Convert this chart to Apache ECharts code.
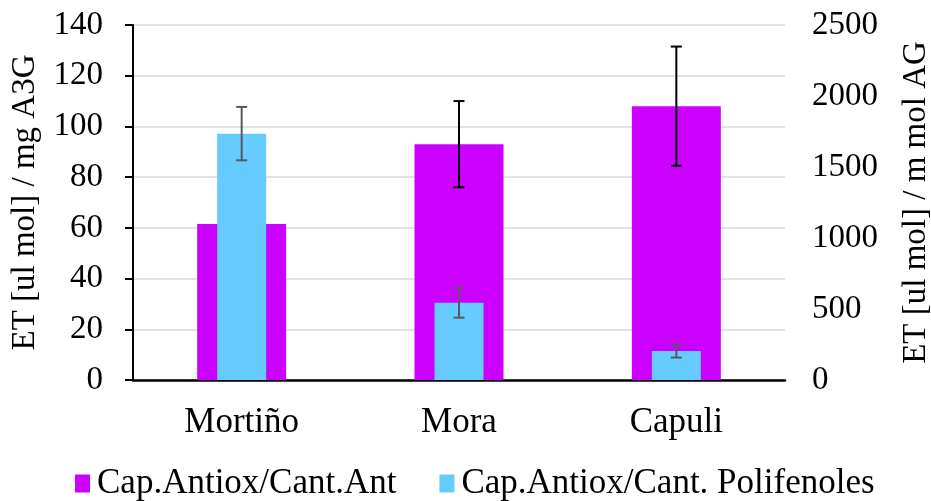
<!DOCTYPE html>
<html>
<head>
<meta charset="utf-8">
<script src="https://cdn.jsdelivr.net/npm/echarts@6/dist/echarts.min.js"></script>
<style>
  html, body { margin: 0; padding: 0; background: #fff; }
  #chart { width: 931px; height: 501px; }
</style>
</head>
<body>
<div id="chart"></div>
<script>
// Fruit samples
const categories = ['Mortiño', 'Mora', 'Capuli'];

// Antioxidant capacity per anthocyanin content (left axis)
const antValues = [61.5, 93, 108];
const antErrors = [null, 17, 23.5];

// Antioxidant capacity per polyphenol content (right axis)
const poliValues = [1735, 544, 204];
const poliErrors = [188, 105, 46];

const leftTicks = { min: 0, max: 140, interval: 20 };
const rightTicks = { min: 0, max: 2500, interval: 500 };

const FONT = 'Liberation Serif';
const PURPLE = '#cc00ff';
const BLUE = '#66ccff';

// [category index, low, high] for every sample that has a deviation
function errorData(values, errors) {
  const out = [];
  values.forEach((v, i) => {
    if (errors[i] != null) out.push([i, v - errors[i], v + errors[i]]);
  });
  return out;
}

function errorRenderer(color) {
  return function (params, api) {
    const x = api.value(0);
    const lo = api.coord([x, api.value(1)]);
    const hi = api.coord([x, api.value(2)]);
    const half = 5.5;
    const style = { stroke: color, lineWidth: 2 };
    return {
      type: 'group',
      children: [
        { type: 'line', shape: { x1: lo[0], y1: lo[1], x2: hi[0], y2: hi[1] }, style },
        { type: 'line', shape: { x1: hi[0] - half, y1: hi[1], x2: hi[0] + half, y2: hi[1] }, style },
        { type: 'line', shape: { x1: lo[0] - half, y1: lo[1], x2: lo[0] + half, y2: lo[1] }, style }
      ]
    };
  };
}

const chart = echarts.init(document.getElementById('chart'), null, { renderer: 'canvas' });

chart.setOption({
  animation: false,
  backgroundColor: '#fff',
  textStyle: { fontFamily: FONT, color: '#000' },
  grid: { left: 133, right: 146, top: 25, bottom: 121, outerBoundsMode: 'none', containLabel: false },
  legend: {
    left: 75,
    top: 466,
    padding: 0,
    itemWidth: 15,
    itemHeight: 18,
    itemGap: 43,
    icon: 'rect',
    textStyle: { fontFamily: FONT, fontSize: 35, color: '#000', padding: [0, 0, 0, 2] },
    data: ['Cap.Antiox/Cant.Ant', 'Cap.Antiox/Cant. Polifenoles']
  },
  xAxis: [
    {
      type: 'category',
      data: categories,
      axisLine: { lineStyle: { color: '#000', width: 2.5 } },
      axisTick: { alignWithLabel: true, length: 9, lineStyle: { color: '#000', width: 2 } },
      axisLabel: { fontFamily: FONT, fontSize: 35, color: '#000', margin: 25 }
    },
    {
      type: 'category',
      data: categories,
      show: false
    }
  ],
  yAxis: [
    {
      type: 'value',
      min: leftTicks.min, max: leftTicks.max, interval: leftTicks.interval,
      name: 'ET [ul mol] / mg A3G',
      nameLocation: 'middle',
      nameGap: 91,
      nameTextStyle: { fontFamily: FONT, fontSize: 33, color: '#000' },
      axisLine: { show: true, lineStyle: { color: '#000', width: 2 } },
      axisTick: { show: true, length: 8, lineStyle: { color: '#000', width: 2 } },
      axisLabel: { fontFamily: FONT, fontSize: 33, color: '#000', margin: 30, padding: [5, 0, 0, 0] },
      splitLine: { lineStyle: { color: '#d9d9d9', width: 1.5 } }
    },
    {
      type: 'value',
      min: rightTicks.min, max: rightTicks.max, interval: rightTicks.interval,
      name: 'ET [ul mol] / m mol AG',
      nameLocation: 'middle',
      nameGap: 115,
      nameTextStyle: { fontFamily: FONT, fontSize: 33, color: '#000' },
      axisLine: { show: false },
      axisTick: { show: false },
      axisLabel: {
        fontFamily: FONT, fontSize: 33, color: '#000', margin: 27, padding: [5, 0, 0, 0],
        formatter: (v) => String(v)
      },
      splitLine: { show: false }
    }
  ],
  series: [
    {
      name: 'Cap.Antiox/Cant.Ant',
      type: 'bar',
      xAxisIndex: 0,
      yAxisIndex: 0,
      barWidth: 89,
      itemStyle: { color: PURPLE },
      z: 2,
      data: antValues
    },
    {
      name: 'antErr',
      type: 'custom',
      xAxisIndex: 0,
      yAxisIndex: 0,
      dimensions: ['cat', 'lo', 'hi'],
      encode: { x: 0, y: [1, 2] },
      renderItem: errorRenderer('#000'),
      z: 3,
      silent: true,
      data: errorData(antValues, antErrors)
    },
    {
      name: 'Cap.Antiox/Cant. Polifenoles',
      type: 'bar',
      xAxisIndex: 1,
      yAxisIndex: 1,
      barWidth: 49,
      itemStyle: { color: BLUE },
      z: 4,
      data: poliValues
    },
    {
      name: 'poliErr',
      type: 'custom',
      xAxisIndex: 1,
      yAxisIndex: 1,
      dimensions: ['cat', 'lo', 'hi'],
      encode: { x: 0, y: [1, 2] },
      renderItem: errorRenderer('#595959'),
      z: 5,
      silent: true,
      data: errorData(poliValues, poliErrors)
    }
  ]
});
</script>
</body>
</html>
